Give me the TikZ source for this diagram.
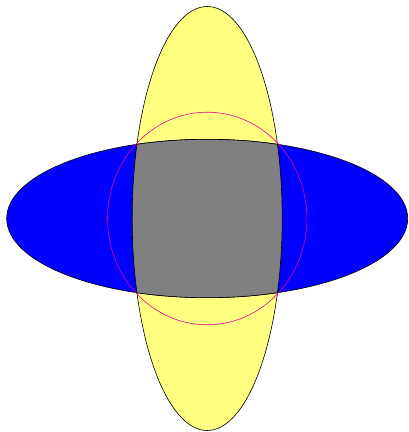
\documentclass[tikz,border=0pt]{standalone}
\usepackage{amsmath, amssymb}
\usepackage{tikz}

\definecolor{paleyellow}{RGB}{255,255,128}

\begin{document}
\begin{tikzpicture}[x=1pt,y=1pt]
\useasboundingbox (0,0) rectangle (408,432);
\coordinate (O) at (207.2,213.5);
\filldraw[fill=paleyellow, line width=0.6pt] (O) ellipse [x radius=75, y radius=212];
\filldraw[fill=blue, line width=0.6pt] (O) ellipse [x radius=200.5, y radius=79.2];
\begin{scope}
\clip (O) ellipse [x radius=75, y radius=212];
\filldraw[fill=gray, line width=0.6pt] (O) ellipse [x radius=200.5, y radius=79.2];
\end{scope}
\begin{scope}
\clip (O) ellipse [x radius=200.5, y radius=79.2];
\draw[line width=0.6pt] (O) ellipse [x radius=75, y radius=212];
\end{scope}
\draw[magenta, line width=0.6pt] (O) ellipse [x radius=99.7, y radius=106.3]; % through the 4 crossings
\end{tikzpicture}
\end{document}
